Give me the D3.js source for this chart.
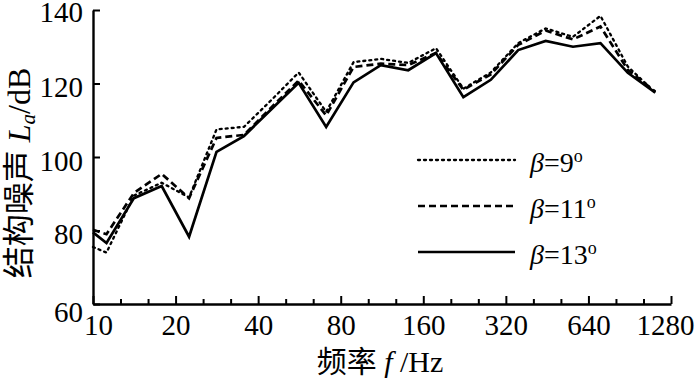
<!DOCTYPE html>
<html>
<head>
<meta charset="utf-8">
<script src="https://cdn.jsdelivr.net/npm/d3@7"></script>
<style>
  body { margin: 0; background: #fff; }
  svg text { fill: #000; }
</style>
</head>
<body>
<div id="chart"></div>
<script>
// frequency positions of the points (Hz) and the three curves (dB)
var bandFreq = [10, 11.2, 14.1, 17.8, 22.4, 28.2, 35.5, 44.7, 56.2, 70.8, 89.1, 112, 141, 178, 224, 282, 355, 447, 562, 708, 891, 1122];
var beta9  = [75.5, 74, 89.5, 93, 89, 107.5, 108.2, 115.5, 123, 112.3, 125.8, 126.7, 125.6, 129.6, 118.6, 123, 131, 135, 132.7, 138.4, 124.6, 117.5];
var beta11 = [80.2, 79, 90.2, 95.4, 88.8, 105.2, 106, 113.5, 120.8, 111.3, 124.5, 125.4, 125, 128.3, 118.3, 122.5, 130.5, 134.4, 132, 135.5, 123.7, 117.8];
var beta13 = [79.5, 76.6, 88.8, 92.1, 78.3, 101.4, 105.7, 113, 120.2, 108.2, 120.3, 125, 123.6, 128.3, 116.3, 121, 129.1, 131.6, 130, 131, 122.9, 117.5];

var seriesNames = ["9", "11", "13"];
var xTicks = [10, 20, 40, 80, 160, 320, 640, 1280];
var yTicks = [60, 80, 100, 120, 140];

var width = 700, height = 382;
var plotLeft = 93, plotRight = 671, plotTop = 10, plotBottom = 304;
var numFont = "'Liberation Serif', 'Times New Roman', serif";
var cjkFont = "'Noto Sans CJK SC', sans-serif";

var svg = d3.select("#chart").append("svg")
  .attr("width", width)
  .attr("height", height);

var x = d3.scaleLog().base(2)
  .domain([10, 1280])
  .range([plotLeft, plotRight]);

var y = d3.scaleLinear()
  .domain([60, 140])
  .range([plotBottom, plotTop]);

// minor ticks at 1/3 octave between the labelled ones
var xMinor = [];
xTicks.slice(0, -1).forEach(function(t) {
  xMinor.push(t * Math.pow(2, 1 / 3), t * Math.pow(2, 2 / 3));
});

svg.append("g")
  .attr("transform", "translate(0," + plotBottom + ")")
  .call(d3.axisBottom(x).tickValues(xMinor).tickSizeInner(-5).tickSizeOuter(0).tickFormat(""))
  .call(function(g) { g.select(".domain").remove(); })
  .selectAll("line").attr("stroke-width", 2);

// x axis
var xAxis = svg.append("g")
  .attr("transform", "translate(0," + plotBottom + ")")
  .call(d3.axisBottom(x).tickValues(xTicks).tickSizeInner(-8).tickSizeOuter(0).tickPadding(10).tickFormat(d3.format("d")));
xAxis.select(".domain").attr("stroke-width", 2.4);
xAxis.selectAll("line").attr("stroke-width", 2);
xAxis.selectAll("text")
  .style("font-family", numFont)
  .style("font-size", "29px")
  .attr("dy", "0.72em")
  .attr("dx", function(d, i) { return i === 0 ? 5 : (i === xTicks.length - 1 ? -6 : 0); });

// y axis
var yAxis = svg.append("g")
  .attr("transform", "translate(" + plotLeft + ",0)")
  .call(d3.axisLeft(y).tickValues(yTicks).tickSizeInner(-7).tickSizeOuter(0).tickPadding(10));
yAxis.select(".domain").attr("stroke-width", 2.4);
yAxis.selectAll("line").attr("stroke-width", 2);
yAxis.selectAll("text")
  .style("font-family", numFont)
  .style("font-size", "29px")
  .attr("dy", function(d) { return d === 60 ? "0.6em" : (d === 140 ? "0.4em" : "0.45em"); });

// lines
var styles = {
  "9":  { dash: "2,4", cap: "round" },
  "11": { dash: "7,4", cap: "butt" },
  "13": { dash: null, cap: "butt" }
};
var seriesData = { "9": beta9, "11": beta11, "13": beta13 };

var line = d3.line()
  .x(function(d) { return x(d[0]); })
  .y(function(d) { return y(d[1]); });

seriesNames.forEach(function(name) {
  var pts = bandFreq.map(function(f, i) { return [f, seriesData[name][i]]; });
  svg.append("path")
    .datum(pts)
    .attr("fill", "none")
    .attr("stroke", "#000")
    .attr("stroke-width", name === "9" ? 2.3 : 2.7)
    .attr("stroke-linecap", styles[name].cap)
    .attr("stroke-linejoin", "miter")
    .attr("stroke-dasharray", styles[name].dash)
    .attr("d", line);
});

// legend
var legend = svg.append("g").attr("transform", "translate(418,160)");
seriesNames.forEach(function(name, i) {
  var gy = i * 46;
  legend.append("line")
    .attr("x1", 0).attr("x2", 97)
    .attr("y1", gy).attr("y2", gy)
    .attr("stroke", "#000")
    .attr("stroke-width", name === "9" ? 2.3 : 2.7)
    .attr("stroke-linecap", styles[name].cap)
    .attr("stroke-dasharray", styles[name].dash);
  var t = legend.append("text")
    .attr("x", 112).attr("y", gy + 12)
    .style("font-family", numFont)
    .style("font-size", "28px");
  t.append("tspan").style("font-style", "italic").text("β");
  t.append("tspan").text("=" + name);
  t.append("tspan").attr("dy", -10).style("font-size", "18px").text("o");
});

// axis titles
var yTitle = svg.append("text")
  .attr("transform", "translate(30,173) rotate(-90)")
  .attr("text-anchor", "middle")
  .style("font-size", "32px");
yTitle.append("tspan").style("font-family", cjkFont).text("结构噪声");
yTitle.append("tspan").style("font-family", numFont).style("font-style", "italic").text(" L");
yTitle.append("tspan").style("font-family", numFont).style("font-style", "italic")
  .style("font-size", "21px").attr("dy", 5).text("a");
yTitle.append("tspan").style("font-family", numFont).attr("dy", -5).text("/dB");

var xTitle = svg.append("text")
  .attr("x", 380).attr("y", 372)
  .attr("text-anchor", "middle")
  .style("font-size", "30px");
xTitle.append("tspan").style("font-family", cjkFont).text("频率");
xTitle.append("tspan").style("font-family", numFont).style("font-style", "italic").text(" f ");
xTitle.append("tspan").style("font-family", numFont).text("/Hz");
</script>
</body>
</html>
